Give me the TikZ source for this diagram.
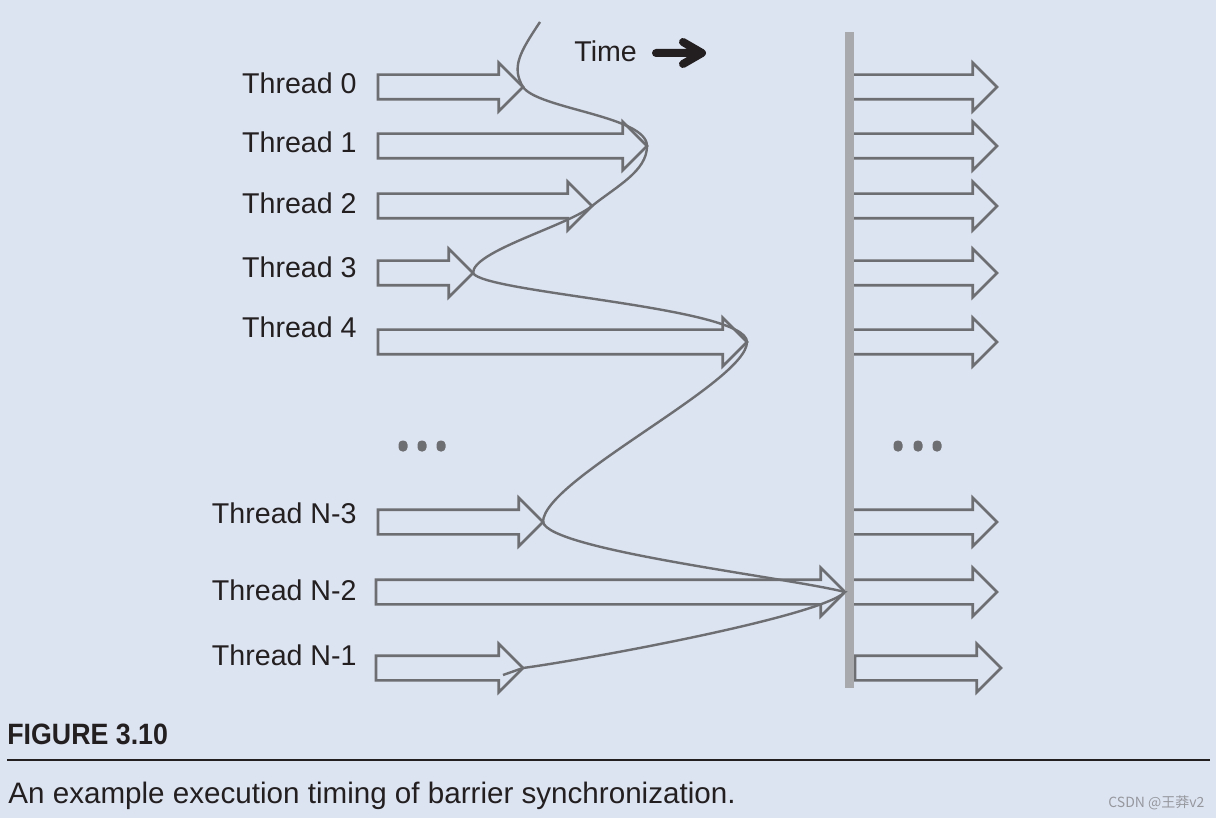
\documentclass[tikz,border=0pt]{standalone}
\usepackage{fontspec}
\setmainfont{Liberation Sans}
\newfontfamily\figfont[FakeStretch=0.91]{Liberation Sans}
\newfontfamily\cjk{Noto Sans CJK SC}
\usepackage{tikz}
\usetikzlibrary{shapes.arrows}
\definecolor{bgblue}{RGB}{220,227,241}
\definecolor{arrowgray}{RGB}{109,110,113}
\definecolor{bargray}{RGB}{167,169,172}
\definecolor{inkblack}{RGB}{35,31,32}
\definecolor{markgray}{RGB}{150,152,158}

\begin{document}
\begin{tikzpicture}[x=0.5pt,y=-0.5pt,
        thr/.style={single arrow,draw=arrowgray,line width=1.3pt,
            inner xsep=0pt,inner ysep=5.5pt,outer sep=0pt,anchor=tail,
            single arrow head extend=6pt,single arrow tip angle=90},
        lbl/.style={anchor=base east,inner sep=0pt,text=inkblack,
            font=\fontsize{14.3}{17}\selectfont},
        curve/.style={draw=arrowgray,line width=1.2pt}]
            \useasboundingbox[fill=bgblue] (0,0) rectangle (1216,818);
            % threads before the barrier
            \node[thr,minimum height=72.5pt] (a0) at (378,87) {};
            \node[thr,minimum height=134.5pt] (a1) at (378,146) {};
            \node[thr,minimum height=107pt] (a2) at (378,206) {};
            \node[thr,minimum height=47.5pt] (a3) at (378,273) {};
            \node[thr,minimum height=184.5pt] (a4) at (378,342) {};
            \node[thr,minimum height=82.5pt] (a5) at (378,522) {};
            \node[thr,minimum height=234.5pt] (a6) at (376,592) {};
            \node[thr,minimum height=73.5pt] (a7) at (376,668) {};
            % threads after the barrier
            \node[thr,minimum height=73.5pt] (b0) at (850,87) {};
            \node[thr,minimum height=73.5pt] (b1) at (850,146) {};
            \node[thr,minimum height=73.5pt] (b2) at (850,206) {};
            \node[thr,minimum height=73.5pt] (b3) at (850,273) {};
            \node[thr,minimum height=73.5pt] (b4) at (850,342) {};
            \node[thr,minimum height=73.5pt] (b5) at (850,522) {};
            \node[thr,minimum height=73.5pt] (b6) at (850,592) {};
            \node[thr,minimum height=73pt] (b7) at (855,668) {};
            \fill[bargray] (845,32) rectangle (854,688);
            \node[lbl] (l0) at (357,94) {Thread 0};
            \node[lbl] (l1) at (357,153) {Thread 1};
            \node[lbl] (l2) at (357,214) {Thread 2};
            \node[lbl] (l3) at (357,278) {Thread 3};
            \node[lbl] (l4) at (357,338) {Thread 4};
            \node[lbl] (l5) at (357,523) {Thread N-3};
            \node[lbl] (l6) at (357,600) {Thread N-2};
            \node[lbl] (l7) at (357,665) {Thread N-1};
            \foreach \x in {403,422,441,898,918,937}
                \fill[arrowgray,rounded corners=2pt]
                    (\x-4.5,440.5) rectangle (\x+4.5,451.5);
            % arrival times
            \coordinate (top) at (540,22);
            \coordinate (end) at (503,675);
            \draw[curve] (top) .. controls +(-20,30) and +(-12,-20) .. (a0.tip)
                .. controls +(15,22) and +(0,-30) .. (a1.tip)
                .. controls +(0,25) and +(25,-20) .. (a2.tip)
                .. controls +(-25,20) and +(0,-22) .. (a3.tip)
                .. controls +(10,20) and +(0,-35) .. (a4.tip)
                .. controls +(0,40) and +(0,-42) .. (a5.tip)
                .. controls +(6,28) and +(-60,-15) .. (a6.tip)
                .. controls +(-25,25) and +(60,-8) .. (a7.tip) -- (end);
            \node[anchor=base west,inner sep=0pt,text=inkblack,
                font=\fontsize{14.3}{17}\selectfont] (time) at (574,62) {Time};
            \draw[inkblack,line width=4pt,line cap=round,line join=round]
                (656,53) -- (701,53) (683,42) -- (702,53) -- (683,64);
            % caption
            \node[anchor=base west,inner sep=0pt,text=inkblack,
                font=\figfont\bfseries\fontsize{14.7}{17}\selectfont] (fig) at (7,744) {FIGURE 3.10};
            \draw[inkblack,line width=0.7pt] (7,760) -- (1210,760);
            \node[anchor=base west,inner sep=0pt,text=inkblack,
                font=\fontsize{14.8}{18}\selectfont] (cap) at (8,803)
                {An example execution timing of barrier synchronization.};
            \node[anchor=base west,inner sep=0pt,text=markgray,
                font=\cjk\fontsize{7}{8}\selectfont] (mark) at (1108,807) {CSDN @王莽v2};
        \end{tikzpicture}
\end{document}
